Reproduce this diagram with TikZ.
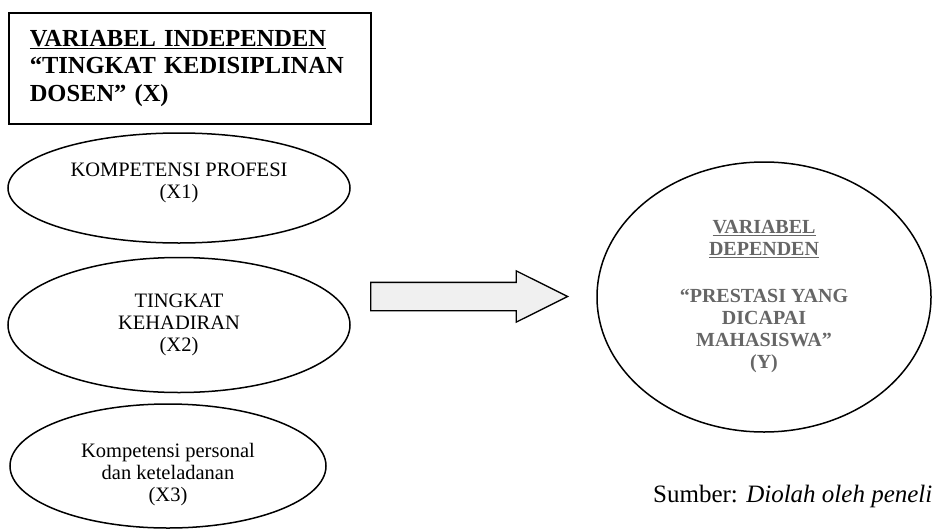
\documentclass[tikz,border=0pt]{standalone}
\usepackage{fontspec}
\setmainfont{Liberation Serif}
\usetikzlibrary{shapes.geometric, shapes.arrows}

\begin{document}
\begin{tikzpicture}[x=1pt, y=-1pt,
  indikator/.style={draw, ellipse, line width=1.5pt, inner sep=0pt, align=center,
    font=\fontsize{20.5}{22}\selectfont}]
\useasboundingbox (0,0) rectangle (933,530);
\node[draw, line width=1.6pt, anchor=north west, minimum width=362pt, minimum height=111pt,
  inner xsep=21pt, text width=320pt, align=left,
  font=\bfseries\fontsize{24.5}{27.5}\selectfont] (xvar) at (8,12)
  {\underline{VARIABEL INDEPENDEN}\\“TINGKAT KEDISIPLINAN\\DOSEN” (X)};
\node[indikator, minimum width=342pt, minimum height=110pt] (x1) at (179,188) {KOMPETENSI PROFESI\\(X1)\rule[-15pt]{0pt}{0pt}};
\node[indikator, minimum width=342pt, minimum height=135pt] (x2) at (179,325) {TINGKAT\\KEHADIRAN\\(X2)};
\node[indikator, minimum width=316pt, minimum height=124pt] (x3) at (168,466) {\rule{0pt}{32pt}Kompetensi personal\\dan keteladanan\\(X3)};
\node[single arrow, draw, line width=1.3pt, fill=gray!12, minimum height=197pt, inner xsep=0pt, inner ysep=13.5pt,
  single arrow head extend=11.5pt, single arrow tip angle=53, anchor=tail] (arr) at (370,296.5) {};
\node[draw, ellipse, line width=1.5pt, minimum width=334pt, minimum height=270pt, inner sep=0pt,
  align=center, text=black!60, font=\bfseries\fontsize{20}{22}\selectfont] (y) at (764,297)
  {\underline{VARIABEL}\\\underline{DEPENDEN}\\[25pt]“PRESTASI YANG\\DICAPAI\\MAHASISWA”\\(Y)};
\node[anchor=base west, inner sep=0pt, font=\fontsize{25}{25}\selectfont] (src) at (653,502)
  {Sumber: \textit{Diolah oleh peneli}};
\end{tikzpicture}
\end{document}
